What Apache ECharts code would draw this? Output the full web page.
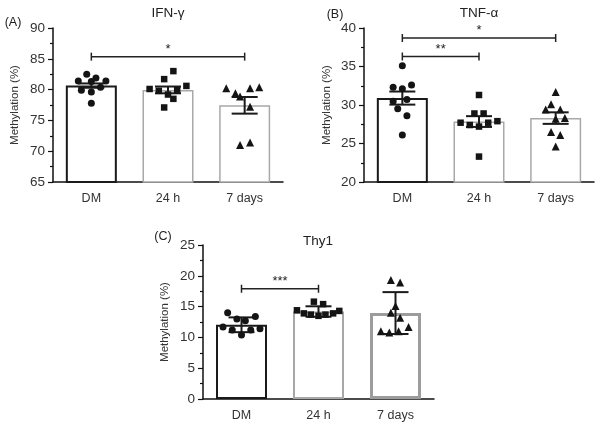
<!DOCTYPE html>
<html><head><meta charset="utf-8">
<script src="https://cdn.jsdelivr.net/npm/echarts@6/dist/echarts.min.js"></script>
<style>html,body{margin:0;padding:0;background:#fff}#c{width:602px;height:428px}</style>
</head><body><div id="c"></div>
<script>
const categories = ['DM', '24 h', '7 days'];

// (A) IFN-γ
const ifnMeans = [80.65, 79.95, 77.45];
const ifnErr = [0.35, 0.55, 1.35];
const ifnDM = [82.5, 81.9, 81.4, 81.3, 81.4, 79.9, 80.4, 79.6, 77.8];
const ifn24 = [83.0, 81.7, 80.1, 79.8, 80.6, 79.2, 79.9, 78.5, 77.1];
const ifn7 = [80.2, 79.4, 78.9, 80.2, 80.4, 77.2, 71.0, 71.4];
const ifnBrackets = [{ from: 0, to: 2, y: 85.35, label: '*' }];

// (B) TNF-α
const tnfMeans = [30.9, 27.85, 28.3];
const tnfErr = [0.85, 0.7, 0.75];
const tnfDM = [35.1, 32.3, 32.1, 32.6, 30.5, 30.7, 29.5, 28.6, 26.1];
const tnf24 = [31.3, 28.9, 28.9, 27.7, 27.4, 27.2, 27.7, 27.9, 23.3];
const tnf7 = [31.7, 30.1, 29.4, 29.4, 28.2, 28.3, 26.5, 26.1, 24.6];
const tnfBrackets = [{ from: 0, to: 2, y: 38.7, label: '*' }, { from: 0, to: 1, y: 36.3, label: '**' }];

// (C) Thy1
const thyMeans = [12.05, 14.2, 13.95];
const thyErr = [1.2, 0.85, 3.4];
const thyDM = [14.0, 13.0, 12.7, 13.4, 11.7, 11.2, 10.4, 11.2, 11.4];
const thy24 = [15.8, 15.4, 14.4, 13.9, 13.7, 13.5, 13.7, 13.9, 14.3];
const thy7 = [19.3, 18.9, 15.1, 14.0, 13.2, 11.0, 10.8, 11.0, 11.7];
const thyBrackets = [{ from: 0, to: 1, y: 17.9, label: '***' }];

// horizontal spread of the dots inside each group (category units)
const jitter = {
  ifn: [[-0.06, 0.06, -0.17, 0, 0.19, -0.13, 0.12, 0, 0],
        [0.07, -0.05, -0.24, -0.12, 0.24, 0, 0.12, 0.07, -0.05],
        [-0.24, -0.12, -0.06, 0.07, 0.19, 0.07, -0.06, 0.07]],
  tnf: [[0, -0.12, 0, 0.12, -0.12, 0.06, -0.06, 0.06, 0],
        [0, -0.06, 0.06, -0.24, -0.12, 0, 0.12, 0.24, 0],
        [0, -0.06, -0.13, 0.06, 0, 0.12, -0.06, 0.06, 0]],
  thy: [[-0.18, -0.06, 0.05, 0.18, -0.24, -0.12, 0, 0.12, 0.24],
        [-0.06, 0.06, -0.28, -0.19, -0.1, 0, 0.09, 0.19, 0.27],
        [-0.06, 0.06, 0, -0.06, 0.06, -0.19, -0.08, 0.04, 0.17]]
};

const panels = [
  { key: 'ifn', title: 'IFN-γ', tag: '(A)', means: ifnMeans, err: ifnErr, groups: [ifnDM, ifn24, ifn7], brackets: ifnBrackets,
    min: 65, max: 90, grid: { left: 53, top: 28, width: 230, height: 154 }, titlePos: [168, 13], tagPos: [13, 23], nameGap: 32,
    borders: [['#1a1a1a', 2], ['#a8a8a8', 1.5], ['#a8a8a8', 1.5]] },
  { key: 'tnf', title: 'TNF-α', tag: '(B)', means: tnfMeans, err: tnfErr, groups: [tnfDM, tnf24, tnf7], brackets: tnfBrackets,
    min: 20, max: 40, grid: { left: 364, top: 28, width: 230, height: 154 }, titlePos: [479, 13], tagPos: [335, 15], nameGap: 31,
    borders: [['#1a1a1a', 2], ['#a8a8a8', 1.5], ['#a8a8a8', 1.5]] },
  { key: 'thy', title: 'Thy1', tag: '(C)', means: thyMeans, err: thyErr, groups: [thyDM, thy24, thy7], brackets: thyBrackets,
    min: 0, max: 25, grid: { left: 203, top: 245, width: 231, height: 154 }, titlePos: [318, 241], tagPos: [163, 237], nameGap: 32,
    borders: [['#1a1a1a', 2], ['#a8a8a8', 2], ['#9c9c9c', 3]] }
];
const symbols = ['circle', 'rect', 'triangle'];
const symbolSizes = [7, 6.5, 8];
const textColor = '#333';
const font = 'Liberation Sans, Arial, sans-serif';

const option = {
  animation: false,
  backgroundColor: '#fff',
  grid: [], xAxis: [], yAxis: [], series: [], graphic: []
};

panels.forEach((p, pi) => {
  option.grid.push(Object.assign({ outerBoundsMode: 'none', containLabel: false }, p.grid));
  option.xAxis.push({
    type: 'category', gridIndex: pi, data: categories,
    axisLine: { onZero: false, lineStyle: { color: '#111', width: 1.5 } },
    axisTick: { show: false },
    axisLabel: { color: textColor, fontSize: 12.5, fontFamily: font, margin: 10 }
  });
  option.xAxis.push({ type: 'value', gridIndex: pi, min: -0.5, max: 2.5, show: false,
    axisLine: { onZero: false } });
  option.yAxis.push({
    type: 'value', gridIndex: pi, min: p.min, max: p.max, interval: 5,
    name: 'Methylation (%)', nameLocation: 'middle', nameGap: p.nameGap,
    nameTextStyle: { color: textColor, fontSize: 11.5, fontFamily: font },
    axisLine: { show: true, onZero: false, lineStyle: { color: '#111', width: 1.5 } },
    axisTick: { show: true, length: 5, lineStyle: { color: '#111', width: 1.2 } },
    minorTick: { show: true, splitNumber: 2, length: 3, lineStyle: { color: '#111', width: 1.2 } },
    splitLine: { show: false },
    axisLabel: { color: textColor, fontSize: 13.5, fontFamily: font, margin: 8 }
  });
  // bars
  option.series.push({
    type: 'bar', xAxisIndex: 2 * pi, yAxisIndex: pi, barWidth: 51, z: 2,
    data: p.means.map((m, i) => ({
      value: m,
      itemStyle: { color: '#fff', borderColor: p.borders[i][0], borderWidth: p.borders[i][1] }
    }))
  });
  // error bars
  option.series.push({
    type: 'custom', xAxisIndex: 2 * pi + 1, yAxisIndex: pi, z: 4,
    data: p.means.map((m, i) => [i, m, p.err[i]]),
    encode: { x: 0, y: 1 },
    renderItem: function (params, api) {
      const x = api.value(0), m = api.value(1), e = api.value(2);
      const t = api.coord([x, m + e]), b = api.coord([x, m - e]);
      const hw = 13, st = { stroke: '#1a1a1a', lineWidth: 2 };
      return { type: 'group', children: [
        { type: 'line', shape: { x1: t[0], y1: t[1], x2: b[0], y2: b[1] }, style: st },
        { type: 'line', shape: { x1: t[0] - hw, y1: t[1], x2: t[0] + hw, y2: t[1] }, style: st },
        { type: 'line', shape: { x1: b[0] - hw, y1: b[1], x2: b[0] + hw, y2: b[1] }, style: st }
      ] };
    }
  });
  // individual points
  p.groups.forEach((vals, gi) => {
    option.series.push({
      type: 'scatter', xAxisIndex: 2 * pi + 1, yAxisIndex: pi, z: 6,
      symbol: symbols[gi], symbolSize: symbolSizes[gi],
      itemStyle: { color: '#141414', opacity: 1 },
      data: vals.map((v, k) => [gi + jitter[p.key][gi][k], v])
    });
  });
  // significance brackets
  option.series.push({
    type: 'custom', xAxisIndex: 2 * pi + 1, yAxisIndex: pi, z: 5,
    data: p.brackets.map(b => [b.from, b.to, b.y]),
    encode: { x: [0, 1], y: 2 },
    renderItem: function (params, api) {
      const a = api.coord([api.value(0), api.value(2)]);
      const c = api.coord([api.value(1), api.value(2)]);
      const st = { stroke: '#222', lineWidth: 1.5 };
      const lab = p.brackets[params.dataIndex].label;
      return { type: 'group', children: [
        { type: 'line', shape: { x1: a[0], y1: a[1], x2: c[0], y2: c[1] }, style: st },
        { type: 'line', shape: { x1: a[0], y1: a[1] - 4, x2: a[0], y2: a[1] + 4 }, style: st },
        { type: 'line', shape: { x1: c[0], y1: c[1] - 4, x2: c[0], y2: c[1] + 4 }, style: st },
        { type: 'text', style: { text: lab, x: (a[0] + c[0]) / 2, y: a[1] - 1, align: 'center', verticalAlign: 'bottom',
          fill: '#222', fontSize: 13, fontFamily: font } }
      ] };
    }
  });
  option.graphic.push({ type: 'text', x: p.titlePos[0], y: p.titlePos[1],
    style: { text: p.title, align: 'center', verticalAlign: 'middle', fill: '#222', fontSize: 13.5, fontFamily: font } });
  option.graphic.push({ type: 'text', x: p.tagPos[0], y: p.tagPos[1],
    style: { text: p.tag, align: 'center', verticalAlign: 'middle', fill: '#222', fontSize: 12.5, fontFamily: font } });
});

const chart = echarts.init(document.getElementById('c'), null, { renderer: 'canvas' });
chart.setOption(option);
</script>
</body></html>
